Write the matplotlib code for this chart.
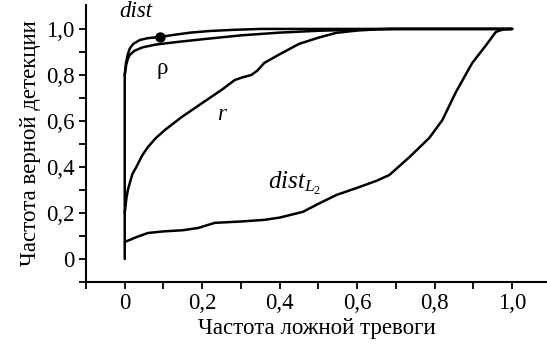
import matplotlib
matplotlib.use("Agg")
import matplotlib.pyplot as plt
from matplotlib.ticker import FixedLocator

FONT = 'Liberation Serif'
plt.rcParams['font.family'] = FONT
plt.rcParams['mathtext.fontset'] = 'custom'
plt.rcParams['mathtext.rm'] = FONT
plt.rcParams['mathtext.it'] = FONT + ':italic'
plt.rcParams['mathtext.bf'] = FONT + ':bold'

# Data
dist_x = [0.0, 0.0, 0.003, 0.008, 0.013, 0.022, 0.039, 0.06, 0.09, 0.13, 0.17, 0.22, 0.28, 0.35, 0.5, 0.7, 1.0]
dist_y = [0.0, 0.80, 0.85, 0.89, 0.915, 0.935, 0.952, 0.96, 0.965, 0.975, 0.984, 0.991, 0.996, 1.0, 1.0, 1.0, 1.0]

rho_x = [0.0, 0.004, 0.008, 0.013, 0.025, 0.046, 0.08, 0.134, 0.2, 0.3, 0.4, 0.5, 0.6, 0.68, 1.0]
rho_y = [0.80, 0.845, 0.87, 0.887, 0.905, 0.92, 0.932, 0.943, 0.955, 0.972, 0.984, 0.992, 0.997, 1.0, 1.0]

r_x = [0.0, 0.004, 0.008, 0.013, 0.02, 0.03, 0.045, 0.06, 0.08, 0.103, 0.147, 0.2, 0.25, 0.284, 0.305, 0.327, 0.343, 0.36, 0.40, 0.45, 0.50, 0.546, 0.6, 0.65, 0.7, 1.0]
r_y = [0.20, 0.26, 0.30, 0.33, 0.37, 0.40, 0.45, 0.487, 0.525, 0.56, 0.617, 0.678, 0.735, 0.778, 0.79, 0.80, 0.82, 0.852, 0.89, 0.935, 0.962, 0.983, 0.993, 0.998, 1.0, 1.0]

l2_x = [0.0, 0.03, 0.06, 0.10, 0.15, 0.19, 0.232, 0.30, 0.36, 0.40, 0.46, 0.50, 0.546, 0.606, 0.65, 0.683, 0.735, 0.786, 0.82, 0.855, 0.897, 0.933, 0.958, 0.975, 1.0]
l2_y = [0.074, 0.095, 0.113, 0.12, 0.125, 0.135, 0.157, 0.163, 0.17, 0.18, 0.205, 0.24, 0.278, 0.313, 0.34, 0.365, 0.443, 0.526, 0.604, 0.726, 0.852, 0.93, 0.987, 0.997, 1.0]

marker_x = [0.09]
marker_y = [0.965]

x_ticks = [0.0, 0.2, 0.4, 0.6, 0.8, 1.0]
x_tick_labels = ['0', '0,2', '0,4', '0,6', '0,8', '1,0']
y_ticks = [0.0, 0.2, 0.4, 0.6, 0.8, 1.0]
y_tick_labels = ['0', '0,2', '0,4', '0,6', '0,8', '1,0']
minor_ticks = [-0.1, 0.1, 0.3, 0.5, 0.7, 0.9]

fig = plt.figure(figsize=(5.47, 3.49), dpi=100)
ax = fig.add_axes([86/547, 1-282/349, 1-86/547, (282-5)/349])

lw = 1.8
kw = dict(color='black', lw=lw, solid_joinstyle='round', solid_capstyle='round')
ax.plot(dist_x, dist_y, **kw)
ax.plot(rho_x, rho_y, **kw)
ax.plot(r_x, r_y, **kw)
ax.plot(l2_x, l2_y, **kw)
ax.plot(marker_x, marker_y, 'o', color='black', ms=6.5)

ax.set_xlim(-0.1, 1.09)
ax.set_ylim(-0.1, 1.104)
for s in ['top', 'right']:
    ax.spines[s].set_visible(False)
for s in ['left', 'bottom']:
    ax.spines[s].set_linewidth(1.5)

FS = 16.5
ax.set_xticks(x_ticks)
ax.set_xticklabels(x_tick_labels, family=FONT, fontsize=FS)
ax.set_yticks(y_ticks)
ax.set_yticklabels(y_tick_labels, family=FONT, fontsize=FS)
ax.xaxis.set_minor_locator(FixedLocator(minor_ticks))
ax.yaxis.set_minor_locator(FixedLocator(minor_ticks))
ax.tick_params(which='both', direction='out', length=5, width=1.3, pad=3)

ax.set_xlabel('Частота ложной тревоги', family=FONT, fontsize=FS, labelpad=3)
ax.set_ylabel('Частота верной детекции', family=FONT, fontsize=FS, labelpad=4)

ax.text(0.03, 1.074, 'dist', family=FONT, style='italic', fontsize=FS, ha='center', va='center')
ax.text(0.098, 0.83, 'ρ', family=FONT, fontsize=FS, ha='center', va='center')
ax.text(0.25, 0.626, 'r', family=FONT, style='italic', fontsize=FS, ha='center', va='center')
ax.text(0.37, 0.33, r'$\mathit{dist}_{L_2}$', fontsize=18, ha='left', va='center')

fig.savefig('out.png', dpi=100)
